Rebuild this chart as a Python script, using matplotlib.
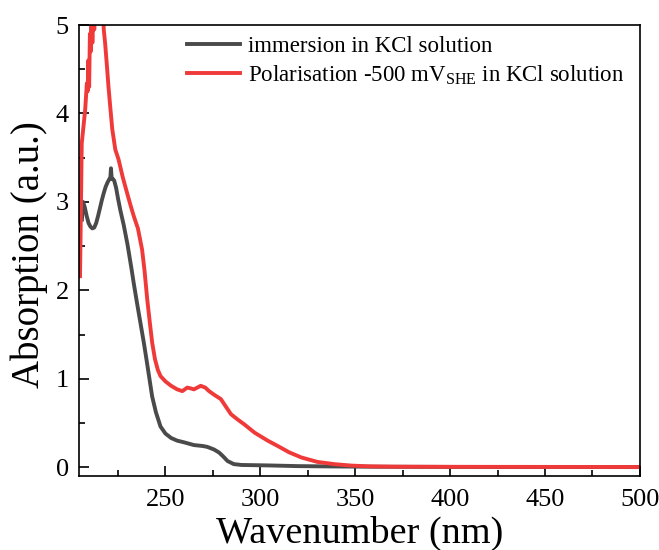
import matplotlib
matplotlib.use("Agg")
import matplotlib.pyplot as plt
from matplotlib.ticker import MultipleLocator

plt.rcParams['font.family'] = ['Liberation Serif', 'DejaVu Serif']
plt.rcParams['mathtext.fontset'] = 'custom'
plt.rcParams['mathtext.rm'] = 'Liberation Serif'
plt.rcParams['mathtext.it'] = 'Liberation Serif:italic'

# immersion in KCl solution
x_imm = [206.0, 206.6, 207.5, 208.5, 209.5, 210.5, 211.5, 212.5, 213.5, 214.5, 215.5, 216.5,
         217.5, 218.5, 219.5, 220.5, 221.0, 221.3, 221.7, 222.3, 223.0, 224.0, 225.0, 226.2,
         228.0, 230.0, 232.0, 233.3, 235.0, 237.0, 238.6, 240.0, 241.5, 243.0, 245.0, 247.4,
         250.0, 253.0, 256.2, 260.0, 265.0, 269.5, 272.0, 275.6, 278.3, 280.5, 282.7, 286.0,
         290.0, 303.9, 320.0, 340.0, 360.0, 400.0, 450.0, 500.0]
y_imm = [2.80, 3.00, 2.94, 2.84, 2.76, 2.72, 2.70, 2.71, 2.76, 2.84, 2.93, 3.02,
         3.10, 3.17, 3.22, 3.26, 3.28, 3.38, 3.26, 3.26, 3.24, 3.16, 3.04, 2.91,
         2.74, 2.52, 2.26, 2.08, 1.86, 1.61, 1.41, 1.22, 1.01, 0.80, 0.62, 0.46,
         0.38, 0.33, 0.30, 0.28, 0.25, 0.24, 0.23, 0.20, 0.165, 0.12, 0.07, 0.035,
         0.025, 0.02, 0.012, 0.008, 0.005, 0.003, 0.002, 0.001]

# Polarisation -500 mV_SHE in KCl solution
x_pol = [205.0, 205.4, 205.9, 206.8, 207.7, 208.6, 209.0, 209.4, 209.8, 210.2, 210.6, 211.0,
         211.5, 212.0, 212.5, 213.0, 214.0, 215.0, 216.0, 217.0, 217.5, 218.2, 219.2, 220.0,
         220.9, 222.0, 223.6, 225.3, 227.5, 229.8, 231.5, 233.3, 235.5, 237.7, 239.0, 240.4,
         241.7, 243.0, 244.5, 246.0, 247.4, 250.0, 253.0, 256.2, 258.9, 261.5, 263.5, 265.0,
         268.6, 271.0, 273.0, 275.6, 279.2, 282.0, 284.5, 288.0, 291.5, 297.0, 303.9, 310.0,
         315.0, 321.6, 330.0, 339.2, 348.0, 356.9, 370.0, 400.0, 450.0, 500.0]
y_pol = [2.16, 2.80, 3.66, 3.85, 4.04, 4.34, 4.25, 4.60, 4.30, 4.90, 4.70, 5.30,
         4.80, 5.20, 4.95, 5.50, 5.60, 5.60, 5.60, 5.30, 4.95, 4.80, 4.53, 4.30,
         4.08, 3.82, 3.59, 3.48, 3.28, 3.10, 2.97, 2.84, 2.70, 2.46, 2.22, 1.90,
         1.65, 1.41, 1.22, 1.10, 1.03, 0.97, 0.92, 0.88, 0.86, 0.90, 0.89, 0.88,
         0.92, 0.90, 0.86, 0.82, 0.77, 0.68, 0.60, 0.54, 0.485, 0.39, 0.30, 0.23,
         0.17, 0.11, 0.06, 0.034, 0.018, 0.01, 0.006, 0.004, 0.003, 0.002]

labels = ['immersion in KCl solution',
          r'Polarisation -500 mV$_{\mathrm{SHE}}$ in KCl solution']
colors = ['#4a4a4a', '#f03a3a']

fig = plt.figure(figsize=(6.59, 5.5), dpi=100)
ax = fig.add_axes([0.12, 0.1345, 0.851, 0.82])

ax.plot(x_imm, y_imm, color=colors[0], lw=2.8, label=labels[0])
ax.plot(x_pol, y_pol, color=colors[1], lw=2.8, label=labels[1])

ax.set_xlim(204.5, 500)
ax.set_ylim(-0.1, 5)
ax.xaxis.set_major_locator(MultipleLocator(50))
ax.xaxis.set_minor_locator(MultipleLocator(25))
ax.yaxis.set_major_locator(MultipleLocator(1))
ax.yaxis.set_minor_locator(MultipleLocator(0.5))
ax.tick_params(which='both', direction='in', top=False, right=False, labelsize=19, width=1.2)
ax.tick_params(which='major', length=7)
ax.tick_params(which='minor', length=4)
ax.tick_params(axis='x', which='major', pad=9.5)
ax.tick_params(axis='y', which='major', pad=7.5)
for s in ax.spines.values():
    s.set_linewidth(1.2)

ax.set_xlabel('Wavenumber (nm)', fontsize=27.5, labelpad=3)
ax.set_ylabel('Absorption (a.u.)', fontsize=28)
ax.yaxis.set_label_coords(-0.055, 0.491)

ax.legend(loc='upper left', bbox_to_anchor=(0.1925, 0.976), frameon=False, fontsize=16.5,
          handlelength=2.3, handletextpad=0.35, labelspacing=0.28, borderaxespad=0.0,
          borderpad=0.0)

fig.savefig('out.png', dpi=100)
